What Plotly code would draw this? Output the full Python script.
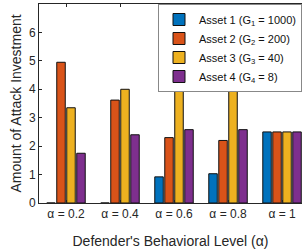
import plotly.graph_objects as go

categories = ["α = 0.2", "α = 0.4", "α = 0.6", "α = 0.8", "α = 1"]
asset1 = [0.0, 0.0, 0.92, 1.03, 2.5]
asset2 = [4.95, 3.62, 2.3, 2.2, 2.5]
asset3 = [3.35, 4.0, 4.2, 4.2, 2.5]
asset4 = [1.75, 2.4, 2.58, 2.58, 2.5]
names = ["Asset 1 (G<sub>1</sub> = 1000)", "Asset 2 (G<sub>2</sub> = 200)",
         "Asset 3 (G<sub>3</sub> = 40)", "Asset 4 (G<sub>4</sub> = 8)"]
colors = ["#0072BD", "#D95319", "#EDB120", "#7E2F8E"]
series = [asset1, asset2, asset3, asset4]
x_pos = [1, 2, 3, 4, 5]

fig = go.Figure()
for nm, vals, col in zip(names, series, colors):
    fig.add_trace(go.Bar(x=x_pos, y=vals, name=nm,
                         marker=dict(color=col, line=dict(color="#111111", width=1))))

axis_col = "#262626"
fig.update_layout(
    width=302, height=249,
    margin=dict(l=39, r=0, t=4, b=46),
    paper_bgcolor="white", plot_bgcolor="white",
    font=dict(family="Liberation Sans, Arial", size=12, color=axis_col),
    barmode="group", bargap=0.26, bargroupgap=0.15,
    showlegend=True,
    legend=dict(x=1.0, y=1.0, xanchor="right", yanchor="top",
                bgcolor="white", bordercolor="#888888", borderwidth=1,
                font=dict(size=11, color="#111111"), tracegroupgap=0,
                itemwidth=30),
    xaxis=dict(range=[0.5, 5.37], tickvals=x_pos, ticktext=categories,
               ticks="inside", ticklen=3, tickcolor=axis_col,
               showline=True, linecolor=axis_col, linewidth=1, mirror="ticks",
               showgrid=False, zeroline=False,
               title=dict(text="Defender's Behavioral Level (α)", font=dict(size=14), standoff=15),
               tickfont=dict(size=12)),
    yaxis=dict(range=[0, 7], dtick=1, ticks="inside", ticklen=3, tickcolor=axis_col,
               showline=True, linecolor=axis_col, linewidth=1, mirror=False,
               showgrid=False, zeroline=False,
               title=dict(text="Amount of Attack Investment", font=dict(size=14), standoff=4),
               tickfont=dict(size=12)),
)
fig.write_html("out.html", config={"displayModeBar": False},
               post_script="document.body.style.margin='0px';")
